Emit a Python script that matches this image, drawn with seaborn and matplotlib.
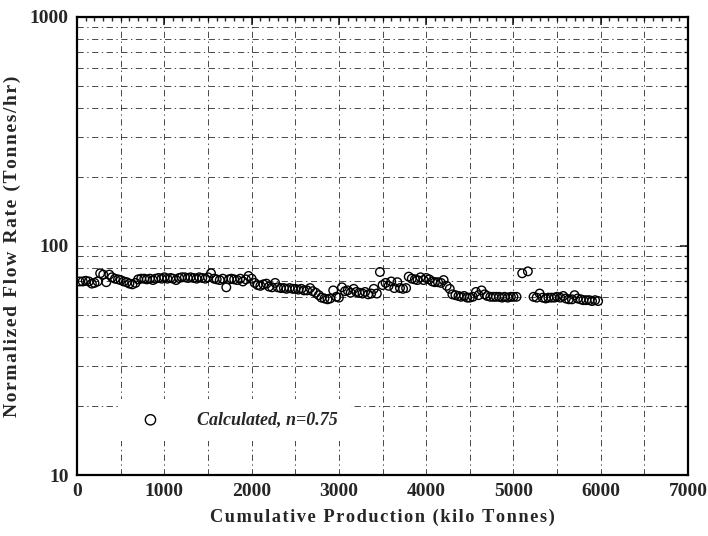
import numpy as np
import pandas as pd
import seaborn as sns
import matplotlib.pyplot as plt
from matplotlib.ticker import FixedLocator, MultipleLocator, NullFormatter

# cumulative production (kilo tonnes)
production = [
    30, 65, 100, 135, 170, 200, 235, 265, 300, 335, 370, 400, 435, 470, 500,
    535, 570, 600, 635, 670, 700, 735, 770, 800, 835, 870, 900, 935, 970, 1000,
    1035, 1070, 1100, 1135, 1170, 1200, 1235, 1270, 1300, 1335, 1370, 1400, 1435,
    1470, 1500, 1535, 1570, 1600, 1635, 1670, 1710, 1740, 1770, 1800, 1835, 1870,
    1900, 1935, 1965, 2000, 2035, 2070, 2100, 2135, 2170, 2200, 2235, 2270, 2300,
    2335, 2370, 2400, 2435, 2470, 2500, 2535, 2570, 2600, 2635, 2670, 2700, 2735,
    2770, 2800, 2835, 2870, 2900, 2935, 2970, 3000, 3035, 3070, 3100, 3135, 3170,
    3200, 3235, 3270, 3300, 3335, 3370, 3400, 3435, 3470, 3500, 3535, 3570, 3600,
    3635, 3670, 3700, 3735, 3770, 3800, 3835, 3870, 3900, 3935, 3970, 4000, 4035,
    4070, 4100, 4135, 4170, 4200, 4235, 4270, 4300, 4335, 4370, 4400, 4435, 4470,
    4500, 4535, 4570, 4600, 4635, 4670, 4700, 4735, 4770, 4800, 4835, 4870, 4900,
    4935, 4970, 5000, 5035, 5100, 5165, 5230, 5265, 5300, 5335, 5370, 5400, 5435,
    5470, 5500, 5535, 5570, 5600, 5635, 5670, 5700, 5735, 5770, 5800, 5835, 5870,
    5900, 5935, 5970,
]

# normalized flow rate (tonnes/hr)
flow_rate = [
    70, 70, 70.5, 70, 68.5, 69, 70, 76, 75, 69.5, 75, 73, 72, 71.5, 71,
    70, 69.5, 68.5, 68, 69, 71.5, 72, 72, 71.5, 72, 71, 72, 72.5, 72, 73,
    72, 72.5, 72, 71, 72.5, 73, 73, 72.5, 73, 72.5, 72, 73, 72.5,
    72, 73, 76, 72, 71.5, 71, 72, 66, 71.5, 72, 71.5, 71, 72,
    70, 71.5, 74, 72, 69, 67.5, 67, 68, 68.5, 66.5, 66, 69, 66,
    65.5, 65.5, 65, 65.5, 65, 65, 64.5, 65, 64, 64, 65.5, 63.5, 62.5,
    61, 59.5, 59, 58.5, 59, 64, 60, 59.5, 66, 63.5, 64, 62.5, 65,
    63, 62.5, 62, 63, 61.5, 62, 65, 62, 77, 67.5, 69, 67, 70,
    65.5, 69.5, 65.5, 65, 65.5, 73.5, 72, 71.5, 71, 73, 71, 72.5, 71.5,
    70, 69.5, 69.5, 69, 71, 67, 65, 61.5, 61, 60.5, 60, 60.5, 59.5,
    59.5, 60, 63, 61, 64, 61.5, 60.5, 60, 60, 60, 60, 59.5, 60,
    59.5, 60, 60, 60, 76, 77.5, 60, 59.5, 62, 59.5, 59, 59.5, 59.5,
    59.5, 60, 59.5, 60.5, 59, 58.5, 58.5, 61, 59, 58.5, 58, 58, 58,
    57.5, 58, 57.5,
]

y_major = [10, 100, 1000]
y_labels = ["10", "100", "1000"]

df = pd.DataFrame({"Production": production, "Flow": flow_rate})


def spaced(text):
    # loose letter spacing like the original typesetting
    return "\u200a".join(text)


sns.set_style("white")
plt.rcParams["font.family"] = ["Liberation Serif", "DejaVu Serif"]

fig = plt.figure(figsize=(7.08, 5.36), dpi=100)
ax = fig.add_axes([0.1088, 0.1138, 0.8630, 0.8545])

sns.scatterplot(
    data=df, x="Production", y="Flow", ax=ax,
    marker="o", s=38, facecolors="none", edgecolor="black", linewidth=1.0,
    label="Calculated, n=0.75", zorder=3,
)

ax.set_yscale("log")
ax.set_xlim(0, 7000)
ax.set_ylim(10, 1000)

ax.xaxis.set_major_locator(MultipleLocator(1000))
ax.xaxis.set_minor_locator(MultipleLocator(100))
ax.yaxis.set_major_locator(FixedLocator(y_major))
minor_y = [v * d for d in (10, 100) for v in range(2, 10)]
ax.yaxis.set_minor_locator(FixedLocator(minor_y))
ax.yaxis.set_minor_formatter(NullFormatter())
ax.set_yticklabels(y_labels)

# dash-dot grid like the scanned original
grid_style = dict(color="black", linewidth=0.5, linestyle=(0, (9, 5, 2, 5)), zorder=1)
for xv in range(500, 7000, 500):
    ax.axvline(xv, **grid_style)
for yv in minor_y + [100]:
    ax.axhline(yv, **grid_style)

ax.tick_params(axis="both", which="major", direction="in", length=6, width=1.2,
               top=True, right=True, labelsize=14, pad=6)
ax.tick_params(axis="both", which="minor", direction="in", length=3, width=1.0,
               top=True, right=True)
for lbl in ax.get_xticklabels() + ax.get_yticklabels():
    lbl.set_fontweight("bold")

for sp in ax.spines.values():
    sp.set_linewidth(1.6)
    sp.set_color("black")

ax.set_xlabel(spaced("Cumulative Production (kilo Tonnes)"),
              fontsize=13.2, fontweight="bold", labelpad=6)
ax.set_ylabel(spaced("Normalized Flow Rate (Tonnes/hr)"),
              fontsize=14, fontweight="bold", labelpad=6)

leg = ax.legend(loc="center", bbox_to_anchor=(0.259, 0.12), frameon=True,
                prop={"family": "Liberation Serif", "weight": "bold", "style": "italic", "size": 13},
                handletextpad=1.6, borderpad=0.3, markerscale=1.2)
leg.get_frame().set_facecolor("white")
leg.get_frame().set_edgecolor("none")
leg.get_frame().set_alpha(1)
leg.get_frame().set_boxstyle("square", pad=0.4)
leg.set_zorder(5)

fig.savefig("out.png", dpi=100)
